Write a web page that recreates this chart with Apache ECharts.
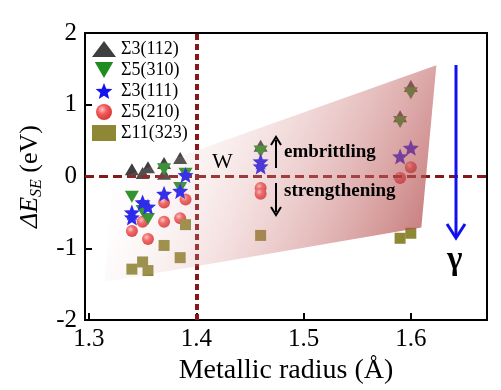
<!DOCTYPE html>
<html><head><meta charset="utf-8">
<script src="https://cdn.jsdelivr.net/npm/echarts@6/dist/echarts.min.js"></script>
<style>html,body{margin:0;padding:0;background:#fff}#c{width:501px;height:390px}</style>
</head><body><div id="c"></div>
<script>
// ---- data ----
const seriesNames = ['Σ3(112)', 'Σ5(310)', 'Σ3(111)', 'Σ5(210)', 'Σ11(323)'];
const s3_112_x = [1.34, 1.35, 1.355, 1.37, 1.37, 1.385, 1.46, 1.59, 1.60];
const s3_112_y = [0.10, 0.05, 0.13, 0.19, 0.04, 0.26, 0.43, 0.84, 1.26];
const s5_310_x = [1.34, 1.35, 1.355, 1.37, 1.385, 1.39, 1.46, 1.59, 1.60];
const s5_310_y = [-0.28, -0.48, -0.59, 0.10, -0.16, 0.04, 0.35, 0.76, 1.16];
const s3_111_x = [1.34, 1.34, 1.35, 1.355, 1.37, 1.385, 1.39, 1.46, 1.46, 1.59, 1.60];
const s3_111_y = [-0.50, -0.57, -0.36, -0.42, -0.24, -0.20, 0.02, 0.21, 0.14, 0.28, 0.40];
const s5_210_x = [1.34, 1.35, 1.355, 1.37, 1.37, 1.385, 1.39, 1.46, 1.46, 1.59, 1.60];
const s5_210_y = [-0.76, -0.63, -0.87, -0.36, -0.63, -0.58, -0.32, -0.16, -0.24, -0.02, 0.13];
const s11_323_x = [1.34, 1.35, 1.355, 1.37, 1.385, 1.39, 1.46, 1.59, 1.60];
const s11_323_y = [-1.29, -1.19, -1.31, -0.96, -1.13, -0.67, -0.82, -0.86, -0.79];
// shaded trend region (vertices)
const regionX = [1.3146, 1.322, 1.6238, 1.6098];
const regionY = [-1.47, -0.05, 1.55, -0.71];
// reference lines
const refX = 1.4;   // W metallic radius
const refY = 0;
const xTicks = [1.3, 1.4, 1.5, 1.6];
const yTicks = [-2, -1, 0, 1, 2];

const pairs = (xs, ys) => xs.map((x, i) => [x, ys[i]]);
const SERIF = '"Liberation Serif","Times New Roman",serif';
const starPath = 'path://M50,0L62.93,32.2L97.55,34.55L70.92,56.8L79.39,90.45L50,72L20.61,90.45L29.08,56.8L2.45,34.55L37.07,32.2Z';
const downTri = 'path://M0,0L10,0L5,8.7Z';

const chart = echarts.init(document.getElementById('c'), null, {renderer: 'canvas'});
const red = new echarts.graphic.RadialGradient(0.38, 0.35, 0.65, [
  {offset: 0, color: '#ffc4c4'}, {offset: 0.45, color: '#f25a5a'}, {offset: 1, color: '#d83838'}]);

const option = {
  animation: false,
  grid: {left: 85, right: 14, top: 33, bottom: 68, show: true, borderColor: '#000', borderWidth: 2, backgroundColor: 'transparent'},
  xAxis: {
    type: 'value', min: 1.2963, max: 1.671,
    splitLine: {show: false},
    axisLine: {onZero: false, lineStyle: {color: '#000', width: 2}},
    axisTick: {inside: true, length: 7, lineStyle: {color: '#000', width: 2}, customValues: xTicks},
    axisLabel: {color: '#000', fontSize: 25, fontFamily: SERIF, margin: 7, customValues: xTicks, formatter: v => v.toFixed(1)},
    name: 'Metallic radius (Å)', nameLocation: 'middle', nameGap: 31,
    nameTextStyle: {color: '#000', fontSize: 28, fontFamily: SERIF}
  },
  yAxis: {
    type: 'value', min: -2, max: 2, interval: 1,
    splitLine: {show: false},
    axisLine: {onZero: false, lineStyle: {color: '#000', width: 2}},
    axisTick: {inside: true, length: 7, lineStyle: {color: '#000', width: 2}},
    axisLabel: {color: '#000', fontSize: 25, fontFamily: SERIF, margin: 8},
    name: '{i|ΔE}{s|SE}{n| (eV)}', nameLocation: 'middle', nameGap: 38, nameRotate: 90,
    nameTextStyle: {
      color: '#000', fontFamily: SERIF,
      rich: {
        i: {fontStyle: 'italic', fontSize: 26, fontFamily: SERIF, color: '#000', lineHeight: 30},
        s: {fontStyle: 'italic', fontSize: 16, fontFamily: SERIF, color: '#000', lineHeight: 12, verticalAlign: 'bottom'},
        n: {fontSize: 26, fontFamily: SERIF, color: '#000', lineHeight: 30}
      }
    }
  },
  legend: {
    orient: 'vertical', left: 92, top: 40, padding: 0, itemGap: 3,
    itemWidth: 24, itemHeight: 16,
    textStyle: {color: '#000', fontSize: 18, fontFamily: SERIF},
    data: seriesNames
  },
  series: [
    {
      type: 'line', data: [], silent: true, z: 1,
      markLine: {
        silent: true, symbol: 'none', label: {show: false}, animation: false,
        data: [
          {yAxis: refY, lineStyle: {color: '#861818', width: 3, type: [9, 5]}},
          {xAxis: refX, lineStyle: {color: '#861818', width: 4, type: [6, 4]}}
        ]
      }
    },
    {name: seriesNames[0], type: 'scatter', symbol: 'triangle', symbolSize: [14, 12], z: 3,
      itemStyle: {color: '#3f3f3f', opacity: 1}, data: pairs(s3_112_x, s3_112_y)},
    {name: seriesNames[1], type: 'scatter', symbol: downTri, symbolSize: [14, 12], z: 4,
      itemStyle: {color: '#1f8c1f', opacity: 1}, data: pairs(s5_310_x, s5_310_y)},
    {name: seriesNames[2], type: 'scatter', symbol: starPath, symbolSize: 16, z: 5,
      itemStyle: {color: '#1414f0', opacity: 1}, data: pairs(s3_111_x, s3_111_y)},
    {name: seriesNames[3], type: 'scatter', symbol: 'circle', symbolSize: 12, z: 3,
      itemStyle: {color: red, opacity: 1}, data: pairs(s5_210_x, s5_210_y)},
    {name: seriesNames[4], type: 'scatter', symbol: 'rect', symbolSize: 11, z: 3,
      itemStyle: {color: '#8e8836', opacity: 1}, data: pairs(s11_323_x, s11_323_y)},
    {
      type: 'custom', silent: true, z: 8,
      data: [0],
      renderItem: function (params, api) {
        const pts = regionX.map((x, i) => api.coord([x, regionY[i]]));
        return {
          type: 'polygon',
          shape: {points: pts},
          style: {
            fill: new echarts.graphic.LinearGradient(0, 0.3, 1, 1, [
              {offset: 0, color: 'rgba(255,255,255,0)'},
              {offset: 0.45, color: 'rgba(215,140,140,0.3)'},
              {offset: 1, color: 'rgba(170,60,60,0.78)'}
            ]),
            stroke: 'none'
          }
        };
      }
    }
  ],
  graphic: [
    {type: 'text', z: 100, left: 212, top: 151, style: {text: 'W', font: '22px ' + SERIF, fill: '#000'}},
    {type: 'text', z: 100, left: 284, top: 143, style: {text: 'embrittling', font: 'bold 19px ' + SERIF, fill: '#000'}},
    {type: 'text', z: 100, left: 284, top: 182, style: {text: 'strengthening', font: 'bold 19px ' + SERIF, fill: '#000'}},
    {type: 'line', z: 100, shape: {x1: 276, y1: 168, x2: 276, y2: 140}, style: {stroke: '#000', lineWidth: 2}},
    {type: 'polyline', z: 100, shape: {points: [[271, 145], [276, 137], [281, 145]]}, style: {stroke: '#000', lineWidth: 2, fill: 'none'}},
    {type: 'line', z: 100, shape: {x1: 276, y1: 183, x2: 276, y2: 212}, style: {stroke: '#000', lineWidth: 2}},
    {type: 'polyline', z: 100, shape: {points: [[271, 207], [276, 215], [281, 207]]}, style: {stroke: '#000', lineWidth: 2, fill: 'none'}},
    {type: 'line', z: 100, shape: {x1: 456, y1: 65, x2: 456, y2: 236}, style: {stroke: '#1010f0', lineWidth: 3}},
    {type: 'polyline', z: 100, shape: {points: [[447, 224], [456, 238], [465, 224]]}, style: {stroke: '#1010f0', lineWidth: 3, fill: 'none'}},
    {type: 'text', z: 100, left: 447, top: 244, style: {text: 'γ', font: 'bold 33px ' + SERIF, fill: '#000'}}
  ]
};
chart.setOption(option);
</script>
</body></html>
